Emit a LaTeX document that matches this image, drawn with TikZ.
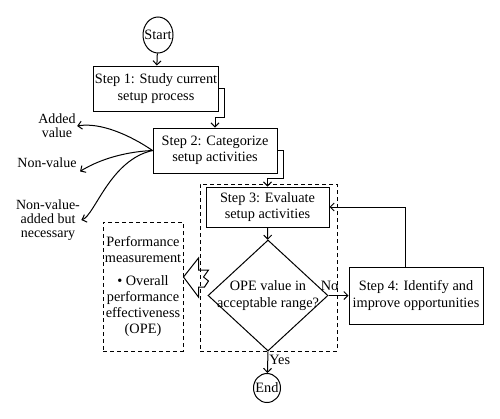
\documentclass[tikz,border=0pt]{standalone}
\usepackage{fontspec}
\setmainfont{Liberation Serif}
\usepackage{tikz}
\usetikzlibrary{shapes.geometric}
\usetikzlibrary{arrows.meta}

\begin{document}
\begin{tikzpicture}[>={Straight Barb[length=4pt,width=8pt]}, x=1pt, y=-1pt, line width=1pt,
        every node/.style={font=\fontsize{14.3}{16.5}\selectfont},
        stepbox/.style={rectangle, draw, align=center, inner sep=1pt},
        term/.style={ellipse, draw, inner sep=0pt},
        dbox/.style={rectangle, draw, dash pattern=on 4pt off 3pt, align=center},
        tag/.style={align=center, inner sep=1pt, font=\fontsize{14}{14}\selectfont}]
        \useasboundingbox (0,0) rectangle (500,418);
        \begin{scope}
            \node [term, minimum width=30, minimum height=36] (start) at (158,35) {\makebox[0pt]{Start}};
            \node [stepbox, minimum width=124, minimum height=45] (s1) at (156,88.5) {Step 1: Study current\\setup process};
            \node [stepbox, minimum width=124, minimum height=45] (s2) at (215,150.5) {Step 2: Categorize\\setup activities};
            \node [dbox, minimum width=137, minimum height=167] (eval) at (268.5,267.5) {};
            \node [stepbox, minimum width=123, minimum height=40] (s3) at (267.5,207) {Step 3: Evaluate\\setup activities};
            \node [diamond, draw, minimum width=120, minimum height=111, inner sep=-6pt, align=center] (ope) at (268,295.5) {OPE value in\\acceptable range?};
            \node [stepbox, minimum width=134, minimum height=57] (s4) at (416,295.5) {Step 4: Identify and\\improve opportunities};
            \node [term, minimum width=27, minimum height=29] (end) at (267,388) {\makebox[0pt]{End}};
            \node [dbox, minimum width=80, minimum height=129, inner sep=1pt, font=\fontsize{14.3}{16}\selectfont] (perf) at (143,286.5) {Performance\\measurement\\[7pt]\textbullet~Overall\\performance\\effectiveness\\(OPE)};
            \node [tag] (added) at (57,126) {Added\\value};
            \node [tag] (nonval) at (47,163) {Non-value};
            \node [tag] (needed) at (48,220) {Non-value-\\added but\\necessary};

            \draw [->] (start) -- (s1);
            \draw [->] (s1.east) -- ++(6,0) -- ++(0,28.5) -| (s2.north);
            \draw [->] (s2.east) -- ++(6,0) -- ++(0,27.5) -| (s3.north);
            \draw [->] (s3) -- (ope);
            \draw [->] (ope.east) -- node [pos=0.05, above, yshift=3pt, inner sep=1pt] {No} (s4.west);
            \draw [->] ([xshift=-11pt]s4.north) |- (s3.east);
            \draw [->] (ope.south) -- node [right, pos=0.4, inner sep=1pt] {Yes} (end);
            \draw ([yshift=9.5pt]perf.east) -- ++(15,-19) -- ++(0,12) -- ++(10,0) -- ++(-5,7) -- ++(5,4) -- ++(-4,6) -- ++(-6,0) -- ++(0,10) -- cycle;
            \draw [->] (s2.west) .. controls (130,135) and (100,122) .. (added.east);
            \draw [->] (s2.west) .. controls (120,152) and (95,162) .. ([shift={(2pt,-2pt)}]nonval.south east);
            \draw [->] (s2.west) .. controls (110,160) and (95,215) .. (needed.east);
        \end{scope}
\end{tikzpicture}
\end{document}
